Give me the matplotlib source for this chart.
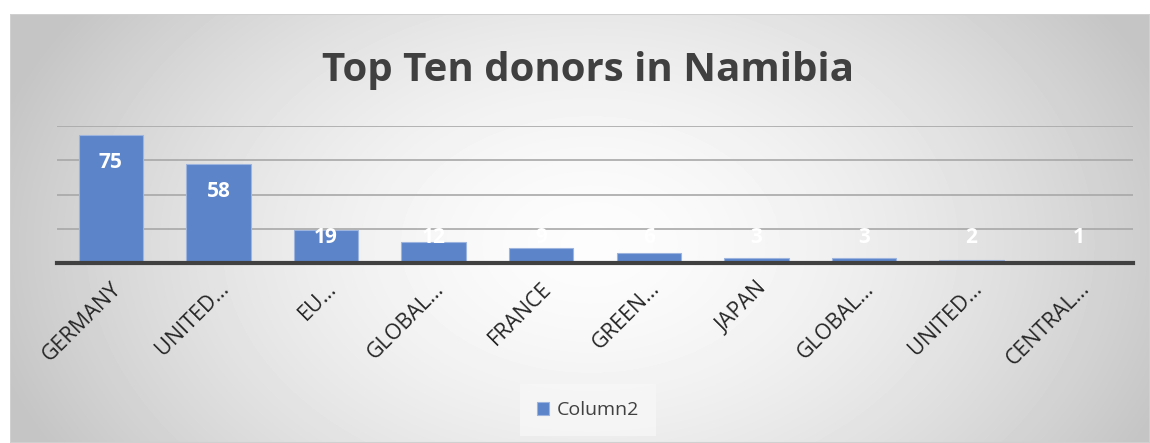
import matplotlib.pyplot as plt
import numpy as np
from matplotlib.patches import Rectangle

donors = ["GERMANY", "UNITED…", "EU…", "GLOBAL…", "FRANCE", "GREEN…",
          "JAPAN", "GLOBAL…", "UNITED…", "CENTRAL…"]
amounts = [75, 58, 19, 12, 9, 6, 3, 3, 2, 1]
series_name = "Column2"
title = "Top Ten donors in Namibia"

plt.rcParams["font.family"] = ["Open Sans", "DejaVu Sans"]

W, H = 1150, 443
fig = plt.figure(figsize=(W / 100, H / 100), dpi=100)
fig.patch.set_facecolor("white")

# radial grey gradient background of the chart area
bg = fig.add_axes([10 / W, 0, 1 - 10 / W, 1 - 14 / H])
yy, xx = np.mgrid[0:429, 0:1140]
r = np.sqrt(((xx - 580) / 620) ** 2 + ((yy - 230) / 420) ** 2)
shade = 0.99 - 0.22 * np.clip(r, 0, 1) ** 1.6
bg.imshow(shade, cmap="gray", vmin=0, vmax=1, aspect="auto", interpolation="bilinear")
bg.add_patch(Rectangle((0, 0), 1, 1, transform=bg.transAxes, fill=False,
                       edgecolor="#d0d0d0", lw=1.5))
bg.axis("off")

ax = fig.add_axes([57 / W, (H - 263) / H, (1133 - 57) / W, (263 - 126) / H])
ax.patch.set_alpha(0)
x = np.arange(len(donors))
ax.bar(x, amounts, width=0.6, color="#5b84c9", edgecolor="#9db4de", lw=0.8,
       label=series_name, zorder=3)
ax.set_xlim(-0.5, len(donors) - 0.5)
ax.set_ylim(0, 80)
ax.set_yticks([0, 20, 40, 60, 80])
ax.set_yticklabels([])
ax.tick_params(axis="y", length=0)
ax.grid(axis="y", color="#a8a8a8", lw=1.2, zorder=0)
for s in ["top", "right", "left"]:
    ax.spines[s].set_visible(False)
ax.spines["bottom"].set_color("#404040")
ax.spines["bottom"].set_linewidth(3)
ax.spines["bottom"].set_zorder(4)
ax.set_xticks(x)
ax.set_xticklabels(donors, rotation=45, ha="right", rotation_mode="anchor",
                   fontsize=15.5, color="#262626")
ax.tick_params(axis="x", length=0, pad=11)

for xi, v in zip(x, amounts):
    ax.text(xi, max(v - 16.5, 14.6), str(v), ha="center", va="center",
            color="white", fontsize=15, fontweight="bold", zorder=5)

fig.text(588 / W, 1 - 70 / H, title, ha="center", va="center",
         fontsize=29, fontweight="bold", color="#404040")

leg = fig.legend(loc="center", bbox_to_anchor=(588 / W, 1 - 410 / H),
                 frameon=True, fontsize=14, handlelength=0.65, handleheight=0.65,
                 borderpad=0.55, handletextpad=0.4)
leg.get_frame().set_facecolor("#f7f7f7")
leg.get_frame().set_edgecolor("none")
leg.get_frame().set_boxstyle("square")
for t in leg.get_texts():
    t.set_color("#404040")

fig.savefig("out.png", dpi=100)
